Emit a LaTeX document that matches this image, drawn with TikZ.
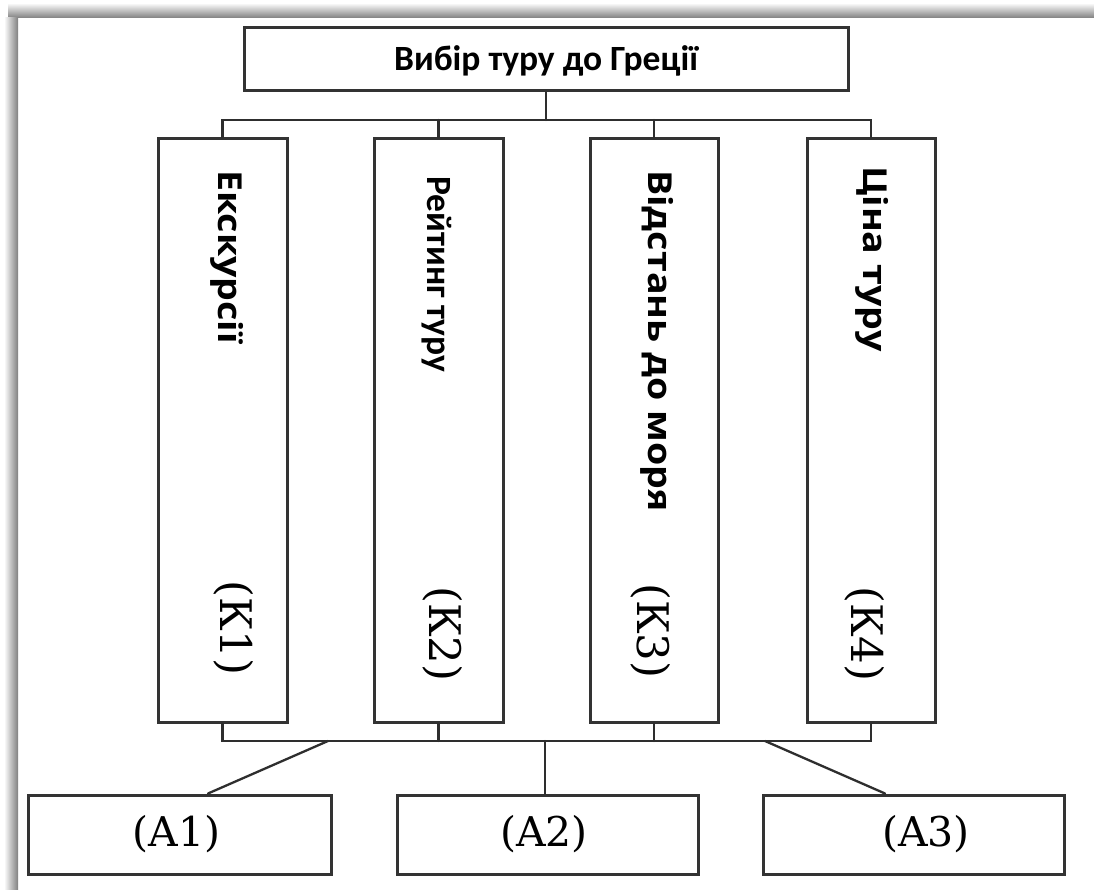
\documentclass[tikz,border=0pt]{standalone}
\usepackage{fontspec}
\newfontfamily\titlefont{Carlito}
\newfontfamily\critfont[FakeStretch=1.14]{Open Sans}
\newfontfamily\labelfont{DejaVu Serif}
\begin{document}
\begin{tikzpicture}[x=1pt,y=-1pt,
    line cap=round,
    box/.style={draw=black!80, line width=3pt, inner sep=0pt, fill=white},
    link/.style={draw=black!82, line width=2.3pt},
    crit/.style={rotate=-90, anchor=base west, inner sep=0pt,
                 font=\critfont\bfseries\fontsize{33}{36}\selectfont},
    critnarrow/.style={crit, font=\titlefont\bfseries\fontsize{35.5}{39}\selectfont},
    code/.style={rotate=-90, inner sep=0pt,
                 font=\labelfont\fontsize{43.5}{47}\selectfont},
    alt/.style={inner sep=0pt, font=\labelfont\fontsize{41}{44}\selectfont}]
  \useasboundingbox (0,0) rectangle (1094,890);
  % page frame with its soft shadow along the top and left edges
  \fill[white] (0,0) rectangle (1094,890);
  \shade[top color=white, bottom color=black!50] (8,3) rectangle (1094,18);
  \shade[left color=white, right color=black!50] (4,18) rectangle (18,890);

  % goal
  \node[box, minimum width=604pt, minimum height=63pt] (goal) at (546,59.5) {};
  \node[inner sep=0pt, font=\titlefont\bfseries\fontsize{35.5}{40}\selectfont] (goalt) at (546,61) {Вибір туру до Греції};

  % criteria
  \node[box, minimum width=129pt, minimum height=583pt] (k1) at (222.5,430.5) {};
  \node[box, minimum width=129pt, minimum height=583pt] (k2) at (438.5,430.5) {};
  \node[box, minimum width=128pt, minimum height=583pt] (k3) at (654,430.5) {};
  \node[box, minimum width=128pt, minimum height=583pt] (k4) at (871,430.5) {};

  \node[crit] (k1t) at (218,170) {Екскурсії};
  \node[critnarrow] (k2t) at (427,176) {Рейтинг туру};
  \node[crit] (k3t) at (648,170) {Відстань до моря};
  \node[crit] (k4t) at (863,166) {Ціна туру};

  \node[code] (k1c) at (234,628) {(К1)};
  \node[code] (k2c) at (443,634) {(К2)};
  \node[code] (k3c) at (651,631) {(К3)};
  \node[code] (k4c) at (865,634) {(К4)};

  % alternatives
  \node[box, minimum width=303pt, minimum height=79pt] (a1) at (179.5,834.5) {};
  \node[box, minimum width=301pt, minimum height=79pt] (a2) at (547.5,834.5) {};
  \node[box, minimum width=301pt, minimum height=79pt] (a3) at (913.5,834.5) {};
  \node[alt] (a1t) at (176.5,834.5) {(A1)};
  \node[alt] (a2t) at (544,834.5) {(A2)};
  \node[alt] (a3t) at (926,834.5) {(A3)};

  % upper bus: goal to criteria
  \coordinate (topbus) at (0,120);
  \draw[link] (goal.south) -- (goal.south |- topbus);
  \draw[link] (k1.north) |- (k4.north |- topbus) -- (k4.north);
  \draw[link] (k2.north) -- (k2.north |- topbus);
  \draw[link] (k3.north) -- (k3.north |- topbus);

  % lower bus: criteria to alternatives
  \coordinate (lowbus) at (0,741);
  \coordinate (d1) at (328,741);
  \coordinate (d3) at (765,741);
  \draw[link] (k1.south) |- (k4.south |- lowbus) -- (k4.south);
  \draw[link] (k2.south) -- (k2.south |- lowbus);
  \draw[link] (k3.south) -- (k3.south |- lowbus);
  \draw[link] (d1) -- ([xshift=28.5pt]a1.north);
  \draw[link] (d3) -- ([xshift=-28.5pt]a3.north);
  \draw[link] ([xshift=-2.5pt]a2.north |- lowbus) -- ([xshift=-2.5pt]a2.north);
\end{tikzpicture}
\end{document}
